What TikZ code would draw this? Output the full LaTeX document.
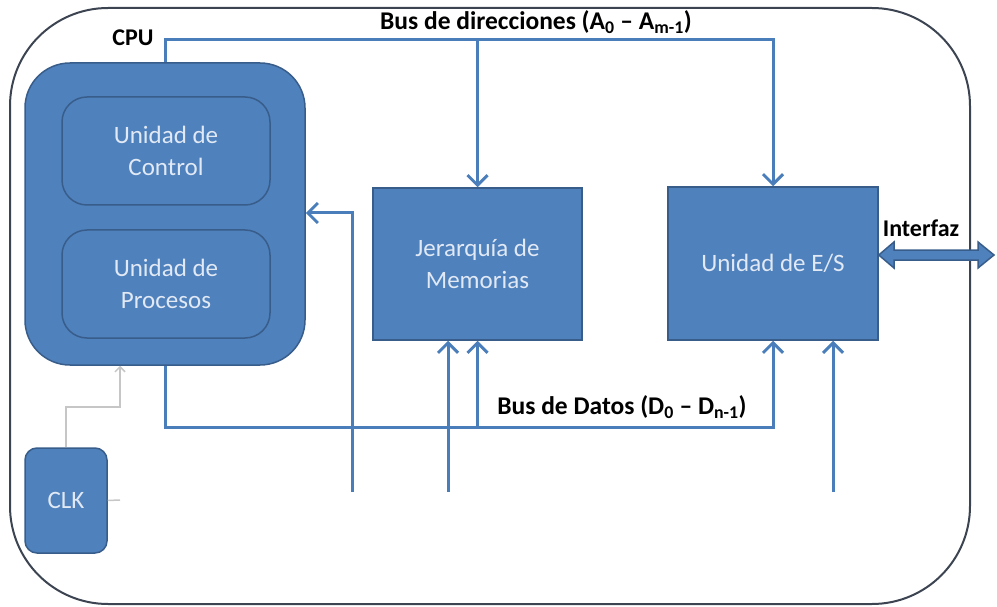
\documentclass[tikz,border=0pt]{standalone}
\usepackage{fontspec}
\setmainfont{Carlito}
\usepackage{tikz, tkz-euclide}
\usetikzlibrary{arrows.meta}
\definecolor{boxblue}{RGB}{79,129,189}
\definecolor{boxline}{RGB}{56,93,138}
\definecolor{busblue}{RGB}{74,126,187}
\definecolor{textc}{RGB}{225,233,245}
\definecolor{framec}{RGB}{60,68,82}
\tikzset{
  unitbox/.style={draw=boxline, fill=boxblue, line width=1.5pt, text=textc,
    align=center, inner sep=0pt, font=\fontsize{25}{32}\selectfont},
  bus/.style={busblue, line width=3pt},
  busarrow/.style={bus, -{Straight Barb[length=10pt,width=20pt]}},
  buslabel/.style={font=\bfseries\fontsize{24}{28}\selectfont}
}

\begin{document}
\begin{tikzpicture}[x=1pt,y=-1pt]
    \useasboundingbox (0,0) rectangle (997,607);
    \tkzDefPoints{773/40/a, 773/427/d, 352/492/p, 352/213/k, 448/492/q, 833/492/r, 120/407/c, 120/500/t}
    \draw[framec, line width=2pt, rounded corners=98pt] (10,8) rectangle (970,604);
    \node (cpu) at (165,214) [unitbox, minimum width=280pt, minimum height=302pt, rounded corners=45pt] {};
    \node (ctrl) at (166,151) [unitbox, minimum width=208pt, minimum height=108pt, rounded corners=25pt] {Unidad de\\Control};
    \node (proc) at (166,284) [unitbox, minimum width=208pt, minimum height=108pt, rounded corners=25pt] {Unidad de\\Procesos};
    \node (mem) at (477.5,264) [unitbox, minimum width=209pt, minimum height=152pt] {Jerarquía de\\Memorias};
    \node (es) at (773,263.5) [unitbox, minimum width=210pt, minimum height=153pt] {Unidad de E/S};
    \node (clk) at (66,500.5) [unitbox, minimum width=82pt, minimum height=105pt, rounded corners=12pt] {CLK};
    \node (cpulbl) at (133,38) [buslabel] {CPU};
    \node (dirlbl) at (536,22) [buslabel, font=\bfseries\fontsize{25.5}{28}\selectfont] {Bus de direcciones (A\textsubscript{0} – A\textsubscript{m-1})};
    \node (datlbl) at (622,407) [buslabel, font=\bfseries\fontsize{25.5}{28}\selectfont] {Bus de Datos (D\textsubscript{0} – D\textsubscript{n-1})};
    \node (iflbl) at (921,228) [buslabel] {Interfaz};
    \draw[busarrow] (cpu.north) |- (a) -- (es.north);
    \draw[busarrow] (mem.north |- a) -- (mem.north);
    \draw[busarrow] (cpu.south) |- (d) -- (es.south);
    \draw[busarrow] (mem.south |- d) -- (mem.south);
    \draw[busarrow] (p) -- (k) -- (k -| cpu.east);
    \draw[busarrow] (q) -- (q |- mem.south);
    \draw[busarrow] (r) -- (r |- es.south);
    \draw[gray!45, line width=1.5pt, -{Straight Barb[length=5pt,width=10pt]}] (clk.north) |- (c) -- (c |- cpu.south);
    \draw[gray!45, line width=1.5pt] (clk.east) -- (t);
    \filldraw[fill=boxblue, draw=boxline, line width=1.5pt] (es.east |- 0,255) -- (894,242) -- (894,250) -- (978,250) -- (978,242)
      -- (994,255) -- (978,268) -- (978,260) -- (894,260) -- (894,268) -- cycle;
    \end{tikzpicture}
\end{document}
